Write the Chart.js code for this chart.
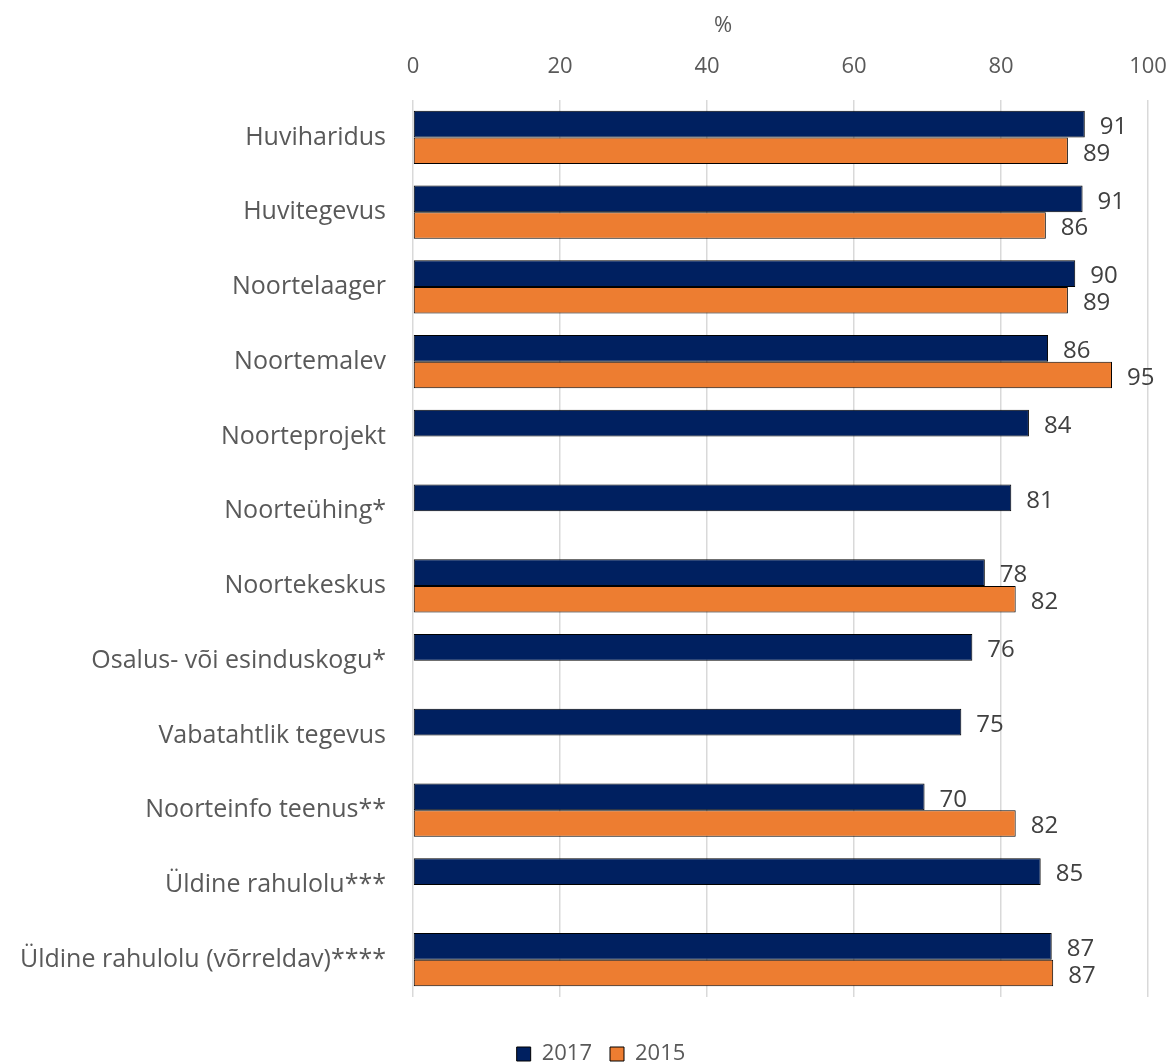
<!DOCTYPE html>
<html lang="et">
<head>
  <meta charset="utf-8">
  <title>Rahulolu noorsootöö teenustega</title>
  <style>
    body { margin: 0; background: #fff; }
    #wrap { width: 1171px; height: 1064px; }
  </style>
</head>
<body>
  <div id="wrap"><canvas id="chart"></canvas></div>

  <script src="https://cdn.jsdelivr.net/npm/chart.js@4"></script>
  <script>
    // andmed
    const categories = [
      'Huviharidus', 'Huvitegevus', 'Noortelaager', 'Noortemalev',
      'Noorteprojekt', 'Noorteühing*', 'Noortekeskus',
      'Osalus- või esinduskogu*', 'Vabatahtlik tegevus',
      'Noorteinfo teenus**', 'Üldine rahulolu***',
      'Üldine rahulolu (võrreldav)****'
    ];
    const values2017 = [91.4, 91.1, 90.1, 86.4, 83.8, 81.4, 77.8, 76.1, 74.6, 69.6, 85.4, 86.9];
    const values2015 = [89.1, 86.1, 89.1, 95.1, null, null, 82.0, null, null, 82.0, null, 87.1];
    const xTicks = [0, 20, 40, 60, 80, 100];
    const axisTitle = '%';

    const FONT = '"Open Sans", "DejaVu Sans", sans-serif';
    const TXT = '#595959';

    // väärtuste sildid tulpade otsas + telje pealkiri "%"
    const barLabels = {
      id: 'barLabels',
      afterDatasetsDraw(chart) {
        const ctx = chart.ctx;
        ctx.save();
        ctx.font = '24px ' + FONT;
        ctx.fillStyle = '#404040';
        ctx.textAlign = 'left';
        ctx.textBaseline = 'middle';
        chart.data.datasets.forEach((ds, i) => {
          chart.getDatasetMeta(i).data.forEach((bar, j) => {
            const v = ds.data[j];
            if (v == null) return;
            ctx.fillText(Math.round(v), bar.x + 15, bar.y + 3);
          });
        });
        ctx.font = '22px ' + FONT;
        ctx.fillStyle = TXT;
        ctx.textAlign = 'center';
        ctx.fillText(axisTitle, 723, 26);
        ctx.restore();
      }
    };

    // legend allapoole ja veidi paremale, nagu originaalis
    const legendShift = {
      id: 'legendShift',
      afterLayout(chart) {
        const lg = chart.legend;
        lg.left += 27; lg.right += 27;
        lg.top += 28; lg.bottom += 28;
      }
    };

    new Chart(document.getElementById('chart'), {
      type: 'bar',
      data: {
        labels: categories,
        datasets: [
          {
            label: '2017',
            data: values2017,
            backgroundColor: '#002060',
            borderColor: '#000',
            borderWidth: 1,
            borderSkipped: false,
            barPercentage: 1,
            categoryPercentage: 0.715
          },
          {
            label: '2015',
            data: values2015,
            backgroundColor: '#ED7D31',
            borderColor: '#000',
            borderWidth: 1,
            borderSkipped: false,
            barPercentage: 1,
            categoryPercentage: 0.715
          }
        ]
      },
      options: {
        indexAxis: 'y',
        responsive: true,
        maintainAspectRatio: false,
        animation: false,
        layout: { padding: { left: 0, right: 23, top: 0, bottom: 17 } },
        scales: {
          x: {
            position: 'top',
            min: 0,
            max: 100,
            afterBuildTicks: s => { s.ticks = xTicks.map(v => ({ value: v })); },
            afterFit: s => { s.height = 100; s.paddingLeft = 0; s.paddingRight = 0; },
            grid: { color: '#d9d9d9', lineWidth: 1.5, drawTicks: false },
            border: { display: false },
            ticks: { color: TXT, font: { family: FONT, size: 22 }, padding: 20 }
          },
          y: {
            afterFit: s => { s.width = 413; },
            grid: { display: false, drawTicks: false },
            border: { display: false },
            ticks: { color: TXT, font: { family: FONT, size: 25 }, padding: 27 }
          }
        },
        plugins: {
          legend: {
            position: 'bottom',
            labels: {
              color: TXT,
              font: { family: FONT, size: 22 },
              boxWidth: 14,
              boxHeight: 14,
              padding: 18
            }
          },
          tooltip: { enabled: false }
        }
      },
      plugins: [barLabels, legendShift]
    });
  </script>
</body>
</html>
